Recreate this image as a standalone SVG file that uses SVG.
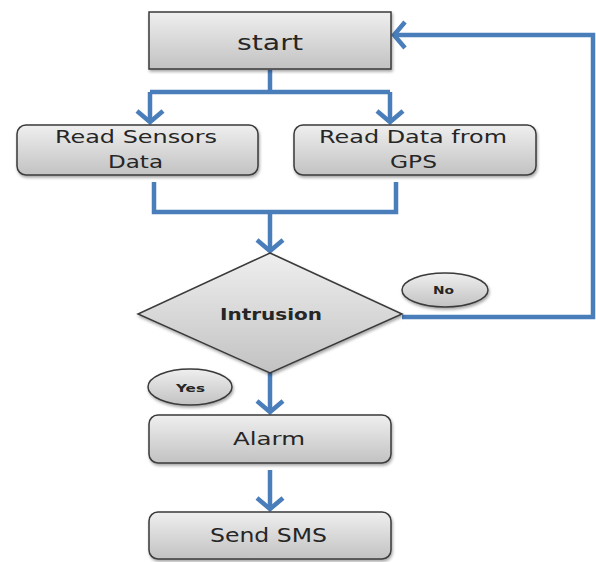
<svg xmlns="http://www.w3.org/2000/svg" width="596" height="562" viewBox="0 0 596 562">
<defs>
<linearGradient id="g" x1="0" y1="0" x2="0" y2="1">
<stop offset="0" stop-color="#efefef"/>
<stop offset="1" stop-color="#c2c2c2"/>
</linearGradient>
<filter id="sh" x="-10%" y="-10%" width="125%" height="130%">
<feDropShadow dx="1" dy="2" stdDeviation="1.5" flood-color="#000" flood-opacity="0.35"/>
</filter>
<marker id="arr" viewBox="0 0 16 30" refX="13" refY="15" markerWidth="16" markerHeight="30" markerUnits="userSpaceOnUse" orient="auto">
<path d="M2,2 L13,15 L2,28" fill="none" stroke="#4a7ebb" stroke-width="4.5"/>
</marker>
<style>
.box{fill:url(#g);stroke:#3a3a3a;stroke-width:1.5;filter:url(#sh)}
.t{font-family:"DejaVu Sans",Verdana,sans-serif;fill:#262626;text-anchor:start}
.b{font-weight:bold}
.c{fill:none;stroke:#4a7ebb;stroke-width:4.5;stroke-linejoin:miter}
</style>
</defs>
<g id="connectors">
<polyline class="c" points="270,70 270,92"/>
<polyline class="c" points="150,92 390,92"/>
<polyline class="c" points="150,92 150,122" marker-end="url(#arr)"/>
<polyline class="c" points="390,92 390,122" marker-end="url(#arr)"/>
<polyline class="c" points="154,182 154,212 396,212 396,182"/>
<polyline class="c" points="270,212 270,251" marker-end="url(#arr)"/>
<polyline class="c" points="402,317 593,317 593,35 394,35" marker-end="url(#arr)"/>
<polyline class="c" points="270,373 270,412" marker-end="url(#arr)"/>
<polyline class="c" points="270,470 270,509" marker-end="url(#arr)"/>
</g>
<g id="start">
<rect class="box" x="149" y="12" width="242" height="57"/>
<text class="t" x="237" y="50" font-size="22" textLength="66" lengthAdjust="spacingAndGlyphs">start</text>
</g>
<g id="read-sensors">
<rect class="box" x="17" y="125" width="241" height="50" rx="9"/>
<text class="t" x="55" y="143" font-size="17" textLength="162" lengthAdjust="spacingAndGlyphs">Read Sensors</text>
<text class="t" x="108" y="168" font-size="17" textLength="55" lengthAdjust="spacingAndGlyphs">Data</text>
</g>
<g id="read-gps">
<rect class="box" x="294" y="125" width="242" height="50" rx="9"/>
<text class="t" x="319" y="143" font-size="17" textLength="188" lengthAdjust="spacingAndGlyphs">Read Data from</text>
<text class="t" x="390" y="168" font-size="17" textLength="47" lengthAdjust="spacingAndGlyphs">GPS</text>
</g>
<g id="intrusion">
<polygon class="box" points="270,253 402,314 270,373 138,314"/>
<text class="t b" x="220" y="320" font-size="16" textLength="102" lengthAdjust="spacingAndGlyphs">Intrusion</text>
</g>
<g id="no">
<ellipse class="box" cx="445" cy="290" rx="43" ry="17"/>
<text class="t b" x="433" y="294" font-size="11" textLength="21" lengthAdjust="spacingAndGlyphs">No</text>
</g>
<g id="yes">
<ellipse class="box" cx="190" cy="387" rx="42" ry="18"/>
<text class="t b" x="176" y="392" font-size="11" textLength="29" lengthAdjust="spacingAndGlyphs">Yes</text>
</g>
<g id="alarm">
<rect class="box" x="149" y="415" width="242" height="48" rx="9"/>
<text class="t" x="233" y="445" font-size="17" textLength="72" lengthAdjust="spacingAndGlyphs">Alarm</text>
</g>
<g id="send-sms">
<rect class="box" x="149" y="512" width="242" height="47" rx="9"/>
<text class="t" x="210" y="542" font-size="19" textLength="117" lengthAdjust="spacingAndGlyphs">Send SMS</text>
</g>
</svg>
